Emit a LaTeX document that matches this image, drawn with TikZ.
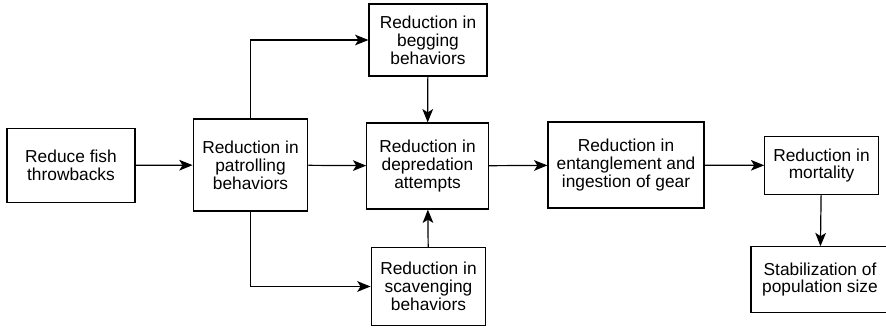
\documentclass[tikz,border=0pt]{standalone}
\usepackage{fontspec}
\setmainfont{Liberation Sans}
\usetikzlibrary{arrows.meta}

\begin{document}
\begin{tikzpicture}[x=0.75pt,y=0.75pt,yscale=-1,xscale=1,
	box/.style={draw, line width=0.9pt, align=center, inner sep=0pt, font=\fontsize{13}{13.4}\selectfont},
	link/.style={line width=0.9pt, -{Stealth[length=10pt,width=8pt,inset=2.5pt]}}]
		\useasboundingbox (0,0) rectangle (886,328);
		
		\node [box, minimum width=96pt, minimum height=55pt] (throw) at (71,165.5) {Reduce fish\\throwbacks};
		\node [box, minimum width=86pt, minimum height=69pt] (patrol) at (250.5,165) {Reduction in\\patrolling\\behaviors};
		\node [box, minimum width=88.5pt, minimum height=54pt] (beg) at (428,40) {Reduction in\\begging\\behaviors};
		\node [box, minimum width=91pt, minimum height=64.5pt] (depred) at (427.5,166) {Reduction in\\depredation\\attempts};
		\node [box, minimum width=86pt, minimum height=58pt] (scav) at (428.5,286.5) {Reduction in\\scavenging\\behaviors};
		\node [box, minimum width=117pt, minimum height=64.5pt] (gear) at (626,165) {Reduction in\\entanglement and\\ingestion of gear};
		\node [box, minimum width=85pt, minimum height=43pt] (mort) at (821.5,165.5) {Reduction in\\mortality};
		\node [box, minimum width=103.5pt, minimum height=49pt] (stab) at (820,279.5) {Stabilization of\\population size};
		
		\draw [link] (throw) -- (patrol);
		\draw [link] (patrol.north) |- (beg.west);
		\draw [link] (patrol.south) |- (scav.west);
		\draw [link] (patrol) -- (depred);
		\draw [link] (beg) -- (depred);
		\draw [link] (scav) -- (depred);
		\draw [link] (depred) -- (gear);
		\draw [link] (gear) -- (mort);
		\draw [link] (mort) -- (stab);
		
\end{tikzpicture}
\end{document}
